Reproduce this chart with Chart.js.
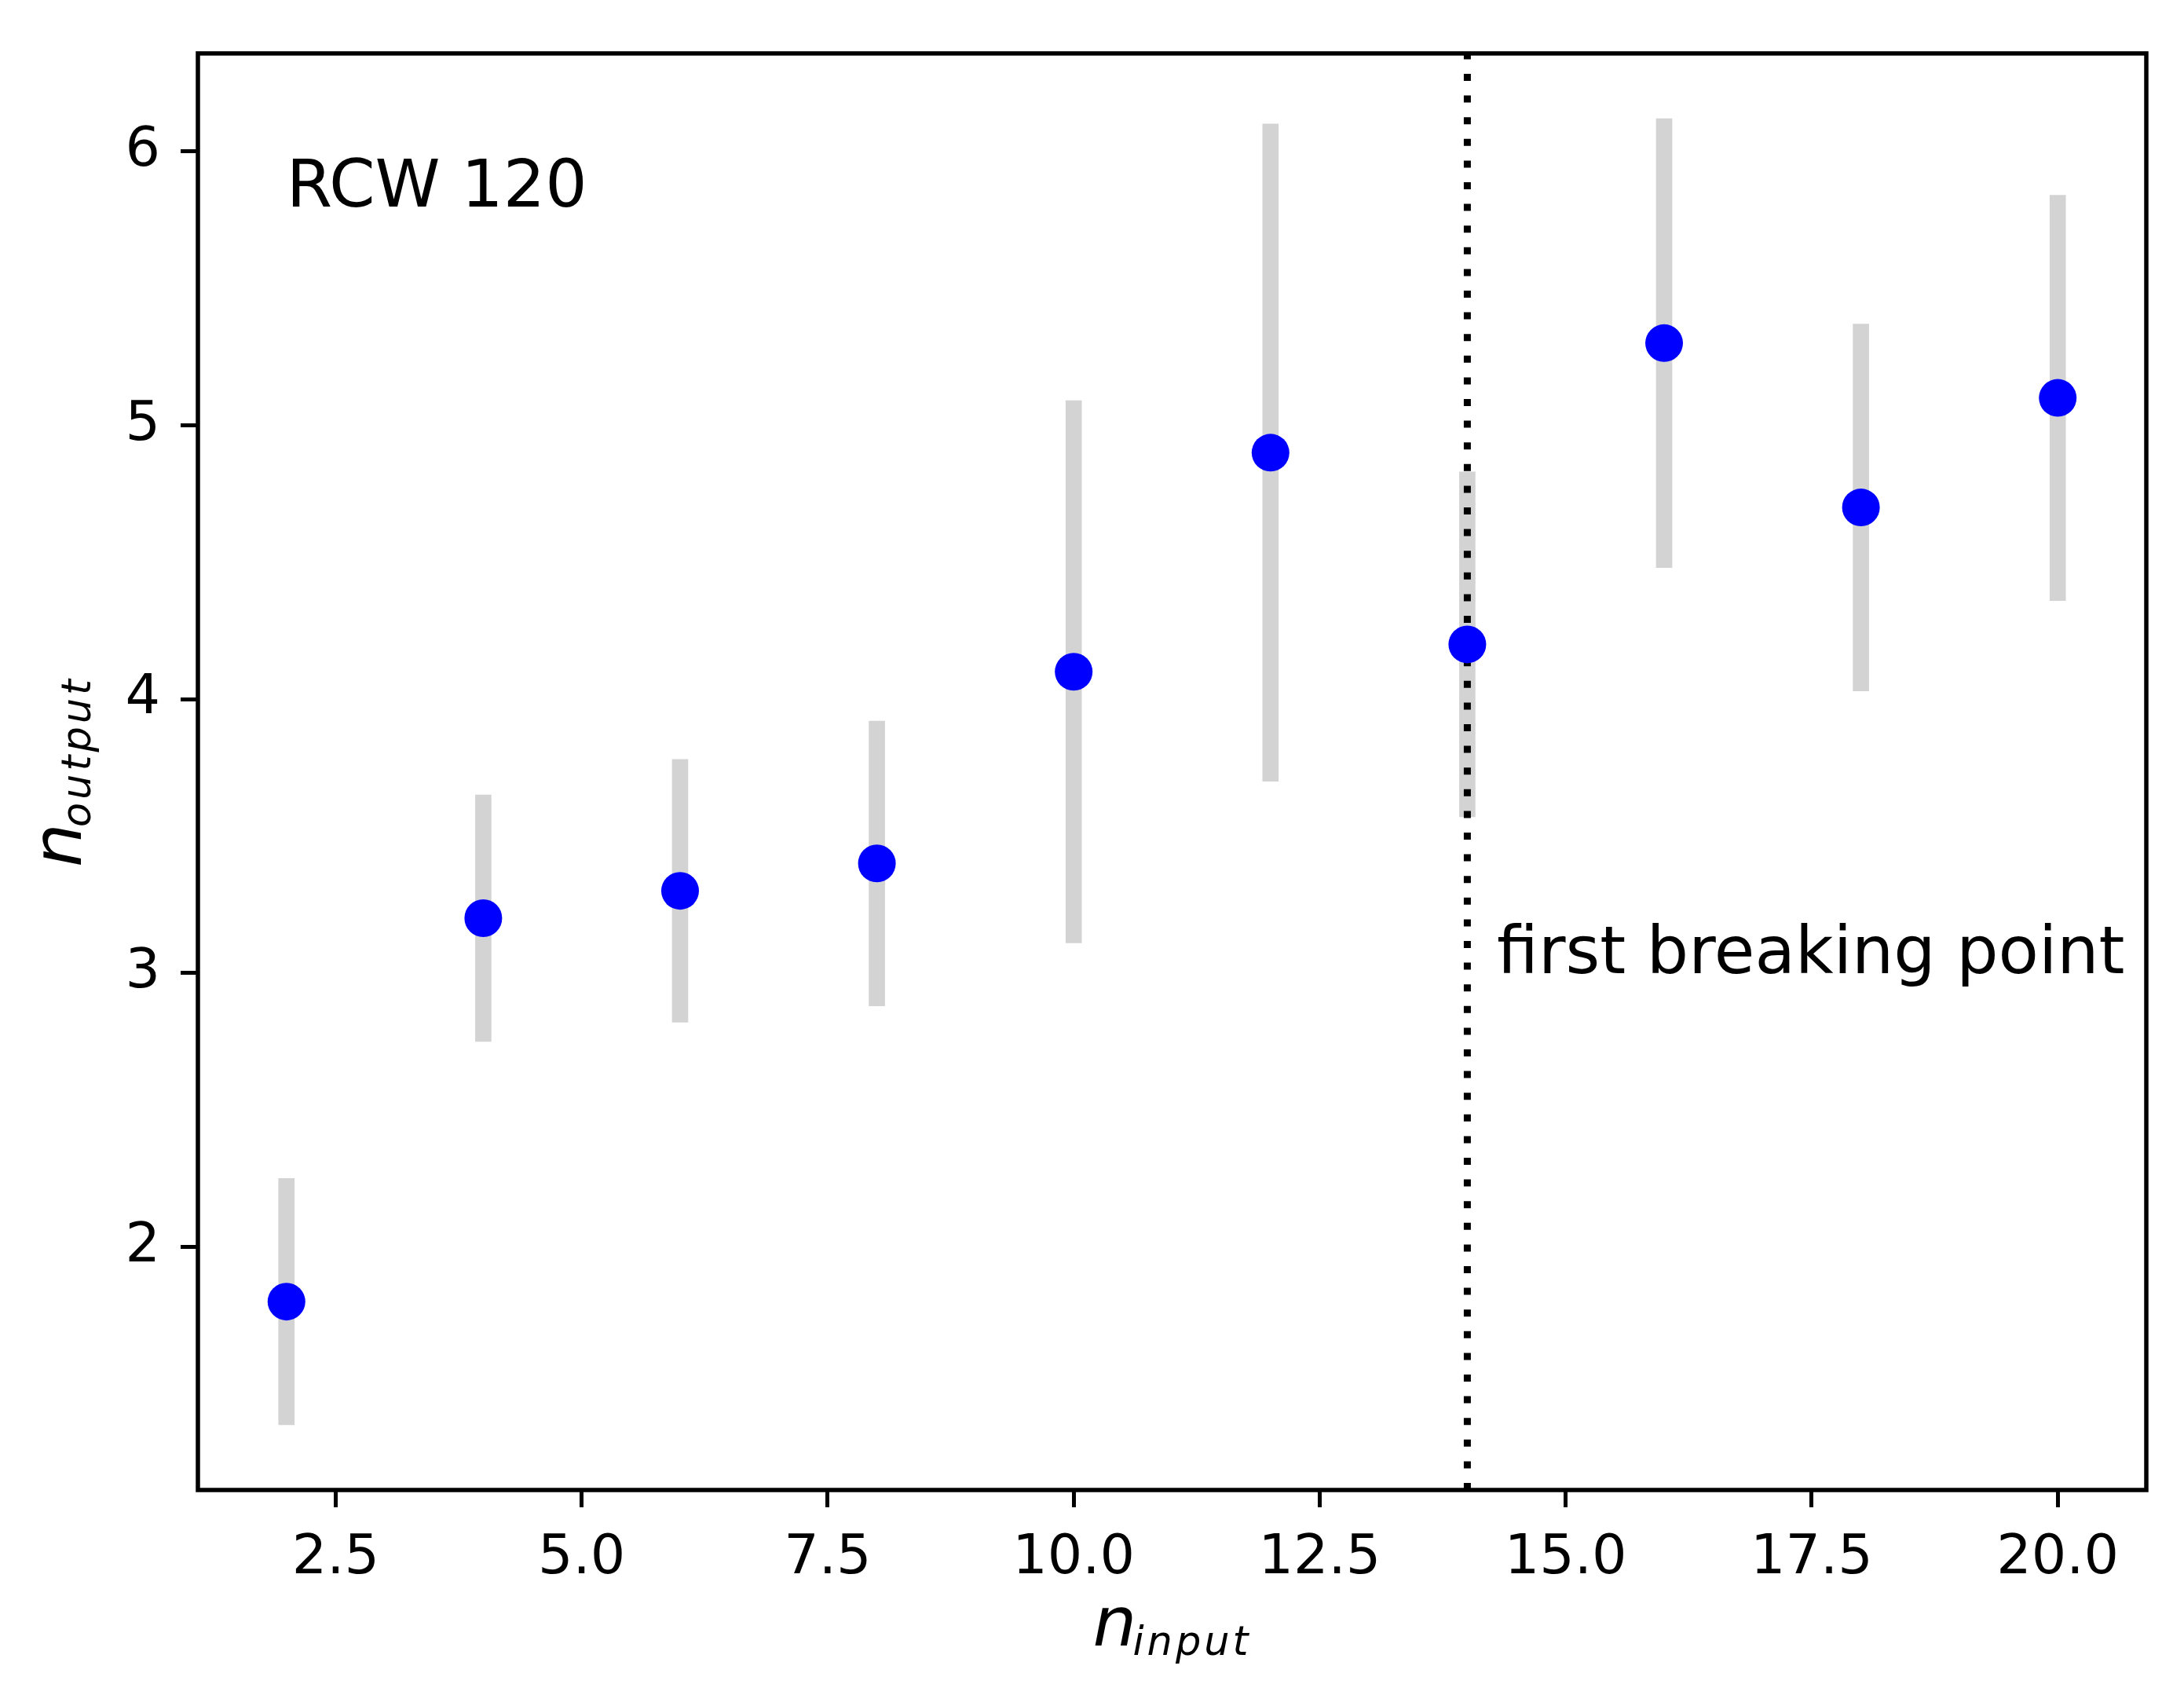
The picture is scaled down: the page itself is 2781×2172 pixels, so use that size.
<!DOCTYPE html>
<html>
<head>
<meta charset="utf-8">
<script src="https://cdn.jsdelivr.net/npm/chart.js"></script>
<style>
  html, body { margin: 0; padding: 0; background: #fff; }
  #wrap { width: 2781px; height: 2172px; }
</style>
</head>
<body>
<div id="wrap"><canvas id="chart"></canvas></div>
<script>
const nInput = [2, 4, 6, 8, 10, 12, 14, 16, 18, 20];
const nOutput = [1.8, 3.2, 3.3, 3.4, 4.1, 4.9, 4.2, 5.3, 4.7, 5.1];
const nOutputErr = [0.45, 0.45, 0.48, 0.52, 0.99, 1.2, 0.63, 0.82, 0.67, 0.74];
const xTicks = [2.5, 5, 7.5, 10, 12.5, 15, 17.5, 20];
const yTicks = [2, 3, 4, 5, 6];
const breakPoint = 14;
const xRange = [1.1, 20.9];
const yRange = [1.112, 6.358];

const FONT = "'DejaVu Sans', sans-serif";

// n with a subscript, centred on (cx, baseline), optionally rotated
function drawSubLabel(ctx, base, sub, cx, baseline, rotated) {
    ctx.save();
    ctx.translate(cx, baseline);
    if (rotated) ctx.rotate(-Math.PI / 2);
    ctx.fillStyle = '#000';
    ctx.textAlign = 'left';
    ctx.textBaseline = 'alphabetic';
    ctx.font = `italic 51px ${FONT}`;
    ctx.letterSpacing = '4px';
    const subW = ctx.measureText(sub).width;
    const start = -(51 + subW) / 2;
    ctx.fillText(sub, start + 51, 12);
    ctx.letterSpacing = '0px';
    ctx.font = `italic 88px ${FONT}`;
    ctx.fillText(base, start, 0);
    ctx.restore();
}

const decorations = {
    id: 'decorations',
    afterDraw(chart) {
        const { ctx, chartArea: a, scales: { x, y } } = chart;
        ctx.save();
        ctx.strokeStyle = '#000';
        ctx.lineWidth = 5.5;
        ctx.strokeRect(a.left, a.top, a.right - a.left, a.bottom - a.top);

        ctx.fillStyle = '#000';
        ctx.font = `84px ${FONT}`;
        ctx.textAlign = 'left';
        ctx.textBaseline = 'alphabetic';
        ctx.fillText('RCW 120', x.getPixelForValue(2), y.getPixelForValue(5.8));
        ctx.fillText('first breaking point', x.getPixelForValue(14.3), y.getPixelForValue(3));
        ctx.restore();

        drawSubLabel(ctx, 'n', 'input', (a.left + a.right) / 2, 2095, false);
        drawSubLabel(ctx, 'n', 'output', 103, (a.top + a.bottom) / 2, true);
    }
};

const tickGrid = {
    display: true,
    offset: false,
    drawOnChartArea: false,
    drawTicks: true,
    tickLength: 22,
    tickWidth: 5,
    tickColor: '#000'
};

new Chart(document.getElementById('chart'), {
    type: 'scatter',
    data: {
        datasets: [
            {
                type: 'scatter',
                data: nInput.map((x, i) => ({ x, y: nOutput[i] })),
                pointRadius: 24,
                pointHoverRadius: 24,
                pointBackgroundColor: '#0000ff',
                pointBorderWidth: 0,
                order: 0
            },
            {
                type: 'line',
                data: [{ x: breakPoint, y: yRange[0] }, { x: breakPoint, y: yRange[1] }],
                borderColor: '#000',
                borderWidth: 9,
                borderDash: [9, 18.6],
                pointRadius: 0,
                fill: false,
                order: 1
            },
            {
                type: 'bar',
                data: nInput.map((x, i) => ({ x, y: [nOutput[i] - nOutputErr[i], nOutput[i] + nOutputErr[i]] })),
                backgroundColor: '#d3d3d3',
                borderWidth: 0,
                barThickness: 20,
                order: 2
            }
        ]
    },
    options: {
        responsive: true,
        maintainAspectRatio: false,
        devicePixelRatio: 1,
        animation: false,
        layout: { padding: { left: 0, top: 50, right: 48, bottom: 0 } },
        plugins: { legend: { display: false }, tooltip: { enabled: false } },
        scales: {
            x: {
                type: 'linear',
                min: xRange[0],
                max: xRange[1],
                offset: false,
                afterBuildTicks: s => { s.ticks = xTicks.map(v => ({ value: v })); },
                afterFit: s => { s.height = 275; },
                grid: tickGrid,
                border: { display: false },
                ticks: {
                    color: '#000',
                    font: { family: FONT, size: 70 },
                    padding: 24,
                    maxRotation: 0,
                    autoSkip: false,
                    callback: v => v.toFixed(1)
                }
            },
            y: {
                type: 'linear',
                min: yRange[0],
                max: yRange[1],
                afterBuildTicks: s => { s.ticks = yTicks.map(v => ({ value: v })); },
                afterFit: s => { s.width = 252; },
                grid: tickGrid,
                border: { display: false },
                ticks: {
                    color: '#000',
                    font: { family: FONT, size: 70 },
                    padding: 26,
                    autoSkip: false,
                    callback: v => String(v)
                }
            }
        }
    },
    plugins: [decorations]
});
</script>
</body>
</html>
